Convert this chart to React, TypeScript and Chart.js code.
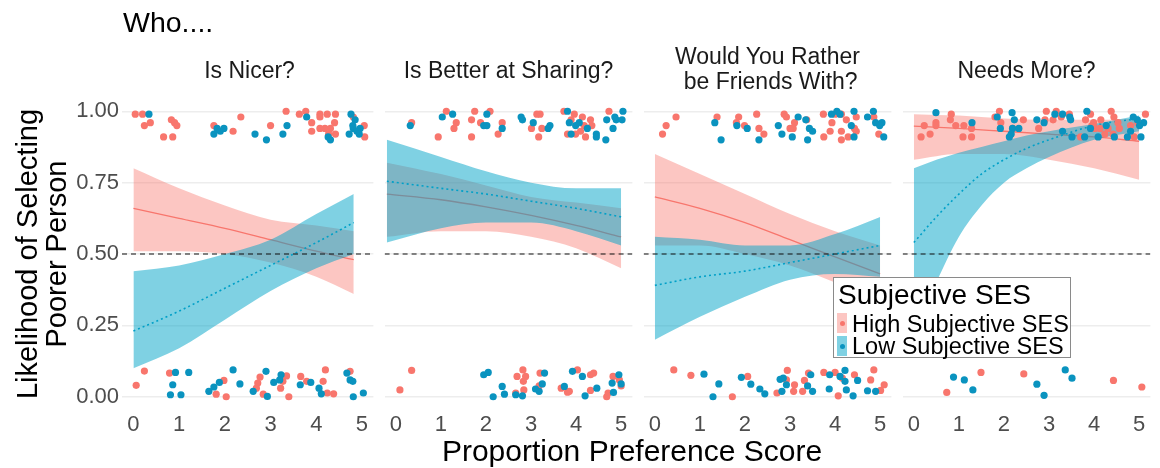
import React, { useEffect, useRef } from 'react';
import { Chart, registerables } from 'chart.js';

Chart.register(...registerables);

const FONT = "'Liberation Sans', Arial, Helvetica, sans-serif";
const PINK = '#F8766D';
const BLUE_PT = '#0A93BF';
const BLUE_LINE = '#00A0C8';
const PINK_FILL = 'rgba(248,118,109,0.42)';
const BLUE_FILL = 'rgba(0,163,200,0.5)';

// ---- facet titles & tick labels ----
const panelTitles = ['Is Nicer?', 'Is Better at Sharing?', 'Would You Rather\n be Friends With?', 'Needs More?'];
const xTickValues = [0, 1, 2, 3, 4, 5];
const yTickValues = [0, 0.25, 0.5, 0.75, 1];
const legendLabels = ['High Subjective SES', 'Low Subjective SES'];

// ---- Panel 1: Is Nicer? ----
const nicerX = [0, 1, 2, 3, 4, 4.82];
const nicerHighFit = [0.66, 0.625, 0.59, 0.55, 0.51, 0.48];
const nicerHighUpper = [0.8, 0.73, 0.67, 0.62, 0.6, 0.58];
const nicerHighLower = [0.51, 0.51, 0.5, 0.47, 0.42, 0.36];
const nicerLowFit = [0.23, 0.3, 0.38, 0.46, 0.54, 0.61];
const nicerLowUpper = [0.44, 0.46, 0.5, 0.55, 0.64, 0.71];
const nicerLowLower = [0.1, 0.17, 0.27, 0.37, 0.45, 0.5];
const nicerHighPts = [
  [0.04, 0.99], [0.2, 0.99], [0.24, 0.95], [0.37, 0.96], [0.83, 0.97], [0.9, 0.96], [0.95, 0.95], [0.66, 0.91], [0.86, 0.91],
  [1.76, 0.95], [2.18, 0.93], [2.35, 0.98], [3.0, 0.95], [3.34, 1.0], [3.63, 0.99], [3.77, 1.0], [3.9, 0.96], [3.9, 0.93],
  [4.08, 0.99], [4.08, 0.98], [4.24, 0.99], [4.42, 0.99], [4.4, 0.96], [4.31, 0.94], [4.19, 0.94], [4.08, 0.94], [4.27, 0.92],
  [4.42, 0.92], [4.81, 0.98], [5.05, 0.95], [5.06, 0.91],
  [0.24, 0.09], [0.06, 0.04], [0.79, 0.083], [1.98, 0.057], [1.81, 0.009], [2.03, 0.0], [2.77, 0.069], [2.72, 0.048],
  [2.69, 0.03], [2.84, 0.009], [3.35, 0.073], [3.27, 0.054], [3.22, 0.03], [3.4, 0.0], [3.66, 0.071], [3.79, 0.054],
  [4.2, 0.094], [4.15, 0.054], [4.24, 0.013], [4.38, 0.01], [4.74, 0.089],
];
const nicerLowPts = [
  [0.34, 0.99], [1.76, 0.92], [1.83, 0.94], [1.9, 0.93], [1.98, 0.94], [2.66, 0.92], [2.91, 0.9], [3.27, 0.92], [3.36, 0.95],
  [3.79, 0.98], [4.26, 0.91], [4.31, 0.9], [4.76, 0.99], [4.85, 0.97], [4.81, 0.94], [4.72, 0.92], [4.96, 0.94], [4.89, 0.93],
  [4.8, 0.95], [4.94, 0.92],
  [0.92, 0.085], [1.21, 0.085], [0.86, 0.042], [0.81, 0.007], [1.04, 0.007], [1.65, 0.019], [1.76, 0.034], [1.88, 0.05],
  [2.18, 0.094], [2.33, 0.045], [2.62, 0.019], [2.9, 0.089], [2.93, 0.001], [3.07, 0.05], [3.23, 0.077], [3.2, 0.059],
  [3.65, 0.042], [3.88, 0.05], [4.06, 0.03], [4.11, 0.01], [4.67, 0.083], [4.74, 0.059], [4.8, 0.054], [4.81, 0.0], [5.03, 0.013],
];

// ---- Panel 2: Is Better at Sharing? ----
const sharingX = [-0.2, 1, 2, 3, 4, 5];
const sharingHighFit = [0.71, 0.69, 0.665, 0.635, 0.6, 0.56];
const sharingHighUpper = [0.82, 0.78, 0.74, 0.7, 0.68, 0.66];
const sharingHighLower = [0.56, 0.58, 0.58, 0.56, 0.52, 0.45];
const sharingLowFit = [0.755, 0.73, 0.71, 0.685, 0.66, 0.63];
const sharingLowUpper = [0.9, 0.84, 0.79, 0.75, 0.73, 0.73];
const sharingLowLower = [0.54, 0.59, 0.61, 0.61, 0.58, 0.53];
const sharingHighPts = [
  [0.35, 0.96], [1.12, 1.0], [1.34, 0.96], [1.29, 0.94], [0.94, 0.91], [1.75, 1.0], [1.68, 0.97], [1.68, 0.91], [1.88, 0.96],
  [2.09, 1.0], [2.36, 0.96], [2.27, 0.92], [3.13, 0.99], [3.2, 0.99], [3.01, 0.94], [3.24, 0.94], [3.17, 0.91], [3.73, 1.0],
  [3.89, 0.97], [3.96, 0.99], [4.14, 0.98], [4.32, 0.97], [4.18, 0.95], [4.1, 0.93], [3.81, 0.92], [3.99, 0.92], [4.21, 0.91],
  [4.35, 0.95], [4.73, 1.0],
  [0.35, 0.092], [0.09, 0.024], [2.82, 0.094], [2.69, 0.071], [2.88, 0.071], [2.83, 0.054], [3.2, 0.083], [3.18, 0.038],
  [2.84, 0.024], [2.66, 0.013], [3.67, 0.03], [3.81, 0.016], [3.85, 0.019], [4.03, 0.094], [4.32, 0.077], [4.39, 0.083],
  [4.32, 0.022], [4.82, 0.071], [4.96, 0.059], [4.71, 0.013], [4.68, 0.0], [5.0, 0.038],
];
const sharingLowPts = [
  [0.32, 0.95], [1.03, 0.98], [1.26, 0.99], [2.02, 0.99], [1.95, 0.95], [2.02, 0.95], [2.36, 0.94], [2.78, 0.98], [2.81, 0.97],
  [3.05, 0.96], [3.42, 0.95], [3.38, 0.94], [3.81, 1.0], [3.85, 0.96], [3.99, 0.95], [4.07, 0.96], [4.25, 0.94], [3.89, 0.92],
  [4.45, 0.92], [4.45, 0.91], [4.66, 0.9], [4.68, 0.97], [4.86, 0.98], [4.82, 0.94], [4.89, 0.97], [5.04, 1.0], [5.02, 0.97],
  [1.95, 0.077], [2.05, 0.085], [2.36, 0.036], [2.16, 0.0], [2.41, 0.009], [2.66, 0.007], [2.81, 0.003], [3.3, 0.083],
  [3.25, 0.045], [3.1, 0.027], [3.18, 0.019], [3.74, 0.036], [3.92, 0.089], [4.14, 0.071], [4.46, 0.03], [4.2, 0.003],
  [4.8, 0.048], [4.95, 0.077], [4.83, 0.015], [5.0, 0.045],
];

// ---- Panel 3: Would You Rather be Friends With? ----
const friendsX = [0, 1, 2, 3, 4, 5];
const friendsHighFit = [0.7, 0.66, 0.61, 0.55, 0.49, 0.43];
const friendsHighUpper = [0.85, 0.78, 0.71, 0.64, 0.58, 0.53];
const friendsHighLower = [0.53, 0.53, 0.5, 0.46, 0.4, 0.33];
const friendsLowFit = [0.39, 0.42, 0.44, 0.47, 0.5, 0.53];
const friendsLowUpper = [0.56, 0.55, 0.53, 0.53, 0.57, 0.63];
const friendsLowLower = [0.2, 0.28, 0.35, 0.41, 0.43, 0.42];
const friendsHighPts = [
  [0.47, 0.98], [0.25, 0.95], [0.17, 0.92], [1.38, 0.98], [1.81, 0.96], [1.86, 0.98], [1.99, 0.95], [2.26, 0.99], [2.31, 0.94],
  [2.42, 0.92], [2.87, 0.99], [2.92, 0.98], [3.1, 0.96], [3.07, 0.94], [3.0, 0.94], [3.37, 0.97], [3.74, 0.99], [3.93, 0.96],
  [4.0, 0.99], [4.14, 0.99], [4.25, 0.97], [4.47, 0.98], [4.43, 0.94], [4.47, 0.93], [4.14, 0.93], [3.89, 0.93], [3.75, 0.91],
  [4.29, 0.91], [4.14, 0.9], [4.86, 0.98], [4.97, 0.92],
  [0.42, 0.094], [0.8, 0.075], [2.06, 0.071], [1.72, 0.0], [2.94, 0.092], [2.92, 0.059], [3.1, 0.042], [3.08, 0.019],
  [2.71, 0.013], [3.28, 0.019], [3.32, 0.057], [3.41, 0.083], [3.75, 0.085], [4.0, 0.085], [4.16, 0.065], [4.43, 0.077],
  [4.07, 0.003], [4.86, 0.094], [4.79, 0.059], [5.01, 0.022], [5.09, 0.042],
];
const friendsLowPts = [
  [1.33, 0.96], [1.47, 0.9], [1.82, 0.95], [2.05, 0.94], [2.31, 0.9], [2.74, 0.95], [2.82, 0.92], [3.05, 0.91], [3.18, 0.98],
  [3.35, 0.97], [3.43, 0.94], [3.5, 0.93], [3.39, 0.9], [3.92, 0.99], [4.04, 1.0], [4.11, 0.99], [4.42, 1.0], [4.36, 0.95],
  [4.42, 0.91], [4.85, 1.0], [4.72, 0.98], [4.9, 0.96], [5.04, 0.96], [5.08, 0.91], [4.99, 0.95],
  [1.09, 0.079], [1.42, 0.045], [1.29, 0.0], [1.92, 0.068], [2.13, 0.044], [2.33, 0.027], [2.44, 0.01], [2.78, 0.061],
  [2.85, 0.065], [2.92, 0.042], [2.82, 0.019], [3.46, 0.077], [3.39, 0.038], [3.5, 0.019], [3.88, 0.077], [3.87, 0.027],
  [4.22, 0.092], [4.22, 0.054], [4.11, 0.071], [4.25, 0.024], [4.4, 0.003], [4.5, 0.057], [4.72, 0.021], [4.9, 0.019],
];

// ---- Panel 4: Needs More? ----
const needsHighX = [0, 1, 2, 3, 4, 5];
const needsHighFit = [0.948, 0.94, 0.93, 0.92, 0.91, 0.895];
const needsHighUpper = [0.99, 0.985, 0.975, 0.97, 0.97, 0.975];
const needsHighLower = [0.83, 0.85, 0.85, 0.83, 0.8, 0.76];
const needsLowX = [0, 0.5, 1, 1.5, 2, 2.5, 3, 4, 5];
const needsLowFit = [0.54, 0.63, 0.71, 0.78, 0.83, 0.87, 0.9, 0.95, 0.975];
const needsLowUpper = [0.8, 0.83, 0.855, 0.875, 0.895, 0.915, 0.93, 0.955, 0.985];
const needsLowLower = [0.22, 0.4, 0.56, 0.67, 0.75, 0.8, 0.84, 0.9, 0.93];
const needsHighPts = [
  [0.16, 0.91], [0.23, 0.95], [0.36, 0.92], [0.49, 0.96], [0.49, 0.95], [0.83, 0.99], [0.81, 0.97], [0.93, 0.95], [1.11, 0.95],
  [1.09, 0.91], [1.28, 0.94], [1.28, 0.91], [1.8, 0.98], [1.9, 1.0], [1.93, 0.96], [2.19, 0.94], [2.43, 0.97], [2.77, 0.94],
  [2.91, 0.97], [2.94, 1.0], [3.09, 0.97], [3.16, 1.0], [3.27, 0.98], [3.45, 0.99], [3.7, 0.91], [3.81, 0.97], [3.92, 0.99],
  [3.99, 0.96], [4.02, 0.94], [4.15, 0.97], [4.24, 0.92], [4.38, 1.0], [4.44, 0.98], [4.53, 0.96], [4.56, 0.94], [4.81, 0.95],
  [4.89, 0.91], [4.97, 0.96], [5.14, 0.99], [3.95, 0.95], [4.13, 0.94], [4.31, 0.94], [4.42, 0.92],
  [0.73, 0.015], [1.49, 0.085], [2.44, 0.08], [4.43, 0.057], [5.06, 0.034],
];
const needsLowPts = [
  [0.49, 0.995], [1.29, 0.96], [1.85, 0.98], [1.92, 0.94], [2.18, 0.995], [2.23, 0.97], [2.19, 0.94], [2.33, 0.94], [2.12, 0.91],
  [2.16, 0.92], [2.73, 0.97], [2.89, 0.96], [3.13, 0.99], [3.3, 0.99], [3.46, 0.98], [3.48, 0.97], [3.3, 0.93], [3.51, 0.91],
  [3.79, 0.91], [3.84, 1.0], [3.92, 0.94], [4.09, 0.91], [4.27, 0.95], [4.45, 0.91], [4.74, 0.91], [4.81, 0.93], [4.96, 0.97],
  [5.1, 0.96], [5.04, 0.91], [4.87, 0.98], [5.01, 0.95],
  [0.88, 0.069], [1.12, 0.059], [1.31, 0.024], [2.73, 0.044], [2.89, 0.005], [3.36, 0.094], [3.51, 0.065],
];

const panels = [
  { highX: nicerX, highFit: nicerHighFit, highUpper: nicerHighUpper, highLower: nicerHighLower, lowX: nicerX, lowFit: nicerLowFit, lowUpper: nicerLowUpper, lowLower: nicerLowLower, highPts: nicerHighPts, lowPts: nicerLowPts },
  { highX: sharingX, highFit: sharingHighFit, highUpper: sharingHighUpper, highLower: sharingHighLower, lowX: sharingX, lowFit: sharingLowFit, lowUpper: sharingLowUpper, lowLower: sharingLowLower, highPts: sharingHighPts, lowPts: sharingLowPts },
  { highX: friendsX, highFit: friendsHighFit, highUpper: friendsHighUpper, highLower: friendsHighLower, lowX: friendsX, lowFit: friendsLowFit, lowUpper: friendsLowUpper, lowLower: friendsLowLower, highPts: friendsHighPts, lowPts: friendsLowPts },
  { highX: needsHighX, highFit: needsHighFit, highUpper: needsHighUpper, highLower: needsHighLower, lowX: needsLowX, lowFit: needsLowFit, lowUpper: needsLowUpper, lowLower: needsLowLower, highPts: needsHighPts, lowPts: needsLowPts },
];

// ---- layout ----
const W = 1160;
const H = 468;
const PANEL_LEFT = 122;
const PANEL_W = 255;
const STEP = 259;
const PLOT_TOP = 97;
const X_AXIS_H = 57;

const toXY = (xs: number[], ys: number[]) => xs.map((x, i) => ({ x, y: ys[i] }));
const ptsXY = (pts: number[][]) => pts.map(([x, y]) => ({ x, y }));

function makeConfig(p: any, idx: number): any {
  const band = { pointRadius: 0, borderColor: 'rgba(0,0,0,0)', borderWidth: 0, cubicInterpolationMode: 'monotone' };
  return {
    type: 'line',
    data: {
      datasets: [
        { data: ptsXY(p.lowPts), showLine: false, pointRadius: 3.6, pointBackgroundColor: BLUE_PT, pointBorderWidth: 0, pointHoverRadius: 3.6 },
        { data: ptsXY(p.highPts), showLine: false, pointRadius: 3.6, pointBackgroundColor: PINK, pointBorderWidth: 0, pointHoverRadius: 3.6 },
        { data: [{ x: -0.25, y: 0.5 }, { x: 5.25, y: 0.5 }], borderColor: '#111', borderWidth: 1.2, borderDash: [5, 4], pointRadius: 0, fill: false },
        { data: toXY(p.lowX, p.lowFit), borderColor: BLUE_LINE, borderWidth: 1.6, borderDash: [2, 3], pointRadius: 0, fill: false, cubicInterpolationMode: 'monotone' },
        { data: toXY(p.lowX, p.lowUpper), ...band, backgroundColor: BLUE_FILL, fill: '+1' },
        { data: toXY(p.lowX, p.lowLower), ...band, fill: false },
        { data: toXY(p.highX, p.highFit), borderColor: PINK, borderWidth: 1.3, pointRadius: 0, fill: false, cubicInterpolationMode: 'monotone' },
        { data: toXY(p.highX, p.highUpper), ...band, backgroundColor: PINK_FILL, fill: '+1' },
        { data: toXY(p.highX, p.highLower), ...band, fill: false },
      ],
    },
    options: {
      animation: false,
      responsive: false,
      maintainAspectRatio: false,
      events: [],
      layout: { padding: { top: PLOT_TOP, left: 0, right: 0, bottom: 0 } },
      plugins: { legend: { display: false }, tooltip: { enabled: false }, title: { display: false } },
      scales: {
        x: {
          type: 'linear',
          min: -0.25,
          max: 5.25,
          grid: { display: false, drawTicks: false },
          border: { display: false },
          afterBuildTicks: (s: any) => { s.ticks = xTickValues.map((v) => ({ value: v })); },
          ticks: { autoSkip: false, maxRotation: 0, padding: 1, color: '#4D4D4D', font: { family: FONT, size: 22, lineHeight: 1.2 } },
          afterFit: (s: any) => { s.height = X_AXIS_H; },
        },
        y: {
          type: 'linear',
          min: -0.05,
          max: 1.05,
          grid: { color: '#EDEDED', lineWidth: 1.4, drawTicks: false },
          border: { display: false },
          afterBuildTicks: (s: any) => { s.ticks = yTickValues.map((v) => ({ value: v })); },
          ticks: {
            display: idx === 0,
            padding: 3,
            color: '#4D4D4D',
            font: { family: FONT, size: 22 },
            callback: (v: any) => Number(v).toFixed(2),
          },
          title: idx === 0
            ? { display: true, text: ['Likelihood of Selecting', 'Poorer Person'], color: '#000', font: { family: FONT, size: 29, lineHeight: 1.0 }, padding: { top: 14, bottom: 0 } }
            : { display: false },
          afterFit: (s: any) => { s.width = idx === 0 ? PANEL_LEFT : 0; },
        },
      },
    },
  };
}

export default function App() {
  const refs = useRef<(HTMLCanvasElement | null)[]>([]);

  useEffect(() => {
    const charts = panels.map((p, i) => new Chart(refs.current[i] as HTMLCanvasElement, makeConfig(p, i)));
    return () => charts.forEach((c) => c.destroy());
  }, []);

  const canvasLeft = (i: number) => (i === 0 ? 0 : PANEL_LEFT + i * STEP);
  const canvasWidth = (i: number) => (i === 0 ? PANEL_LEFT + PANEL_W : PANEL_W);

  return (
    <div style={{ position: 'absolute', left: 0, top: 0, width: W, height: H, background: '#fff', fontFamily: FONT, overflow: 'hidden' }}>
      {panels.map((_, i) => (
        <canvas
          key={i}
          ref={(el) => { refs.current[i] = el; }}
          width={canvasWidth(i)}
          height={H}
          style={{ position: 'absolute', left: canvasLeft(i), top: 0, width: canvasWidth(i), height: H }}
        />
      ))}
      <div style={{ position: 'absolute', left: 123, top: 7, fontSize: 28.5, lineHeight: '30px', color: '#000' }}>Who....</div>
      {panelTitles.map((t, i) => {
        const lines = t.split('\n').length;
        return (
          <div
            key={t}
            style={{
              position: 'absolute',
              left: PANEL_LEFT + i * STEP,
              width: PANEL_W,
              top: lines > 1 ? 44 : 58,
              fontSize: 23,
              lineHeight: '25px',
              textAlign: 'center',
              whiteSpace: 'pre',
              color: '#1A1A1A',
            }}
          >
            {t}
          </div>
        );
      })}
      <div style={{ position: 'absolute', left: 332, width: 600, top: 435, fontSize: 30, lineHeight: '32px', textAlign: 'center', color: '#000' }}>
        Proportion Preference Score
      </div>
      <div style={{ position: 'absolute', left: 833, top: 277, width: 236, height: 79, border: '1px solid #8a8a8a', background: '#fff' }}>
        <div style={{ position: 'absolute', left: 4, top: 2, fontSize: 28, lineHeight: '30px', color: '#000', whiteSpace: 'nowrap' }}>Subjective SES</div>
        {legendLabels.map((lab, i) => (
          <React.Fragment key={lab}>
            <div style={{ position: 'absolute', left: 3, top: 35 + i * 23, width: 10, height: 20, background: i === 0 ? PINK_FILL : BLUE_FILL }}>
              <div style={{ position: 'absolute', left: 2.5, top: 7.5, width: 5, height: 5, borderRadius: '50%', background: i === 0 ? PINK : BLUE_PT }} />
            </div>
            <div style={{ position: 'absolute', left: 18, top: 35 + i * 22, fontSize: 23.5, lineHeight: '22px', color: '#000', whiteSpace: 'nowrap' }}>{lab}</div>
          </React.Fragment>
        ))}
      </div>
    </div>
  );
}
